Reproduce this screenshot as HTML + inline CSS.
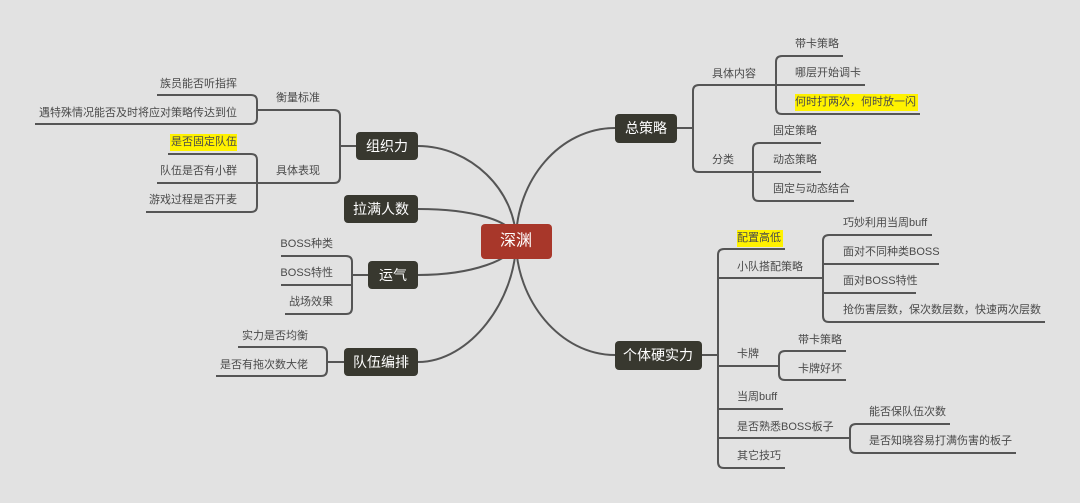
<!DOCTYPE html>
<html><head><meta charset="utf-8"><style>
html,body{margin:0;padding:0;background:#e2e2e2;}
svg{display:block;font-family:"Liberation Sans","Noto Sans CJK SC",sans-serif;}
.t{font-size:11px;fill:#4a4a4a;dominant-baseline:central;}
.b{font-size:14px;fill:#fff;dominant-baseline:central;text-anchor:middle;}
.l{stroke:#555;stroke-width:2;fill:none;}
</style></head><body>
<svg width="1080" height="503" viewBox="0 0 1080 503">
<rect width="1080" height="503" fill="#e2e2e2"/>
<g class="l">
<path d="M516,241 C516,180 560,128 615,128"/>
<path d="M516,241 C516,300 560,355 615,355"/>
<path d="M516,241 C516,190 470,146 418,146"/>
<path d="M516,241 C516,220 470,209 418,209"/>
<path d="M516,241 C516,260 470,275 418,275"/>
<path d="M516,241 C516,300 470,362 418,362"/>
</g>
<g class="l">
<path d="M356,146 H340"/>
<path d="M257,110 H334 Q340,110 340,116 V177 Q340,183 334,183 H157"/>
<path d="M157,95 H251 Q257,95 257,101 V118 Q257,124 251,124 H35"/>
<path d="M168,154 H251 Q257,154 257,160 V206 Q257,212 251,212 H146"/>
<path d="M368,275 H352"/>
<path d="M281,256 H346 Q352,256 352,262 V308 Q352,314 346,314 H285"/>
<path d="M281,285 H352"/>
<path d="M344,362 H327"/>
<path d="M238,347 H321 Q327,347 327,353 V370 Q327,376 321,376 H216"/>
</g>
<rect x="170" y="134" width="67" height="17" fill="#fff200"/>
<text class="t" x="237" y="84" text-anchor="end">族员能否听指挥</text>
<text class="t" x="237" y="113" text-anchor="end">遇特殊情况能否及时将应对策略传达到位</text>
<text class="t" x="320" y="98" text-anchor="end">衡量标准</text>
<text class="t" x="237" y="142" text-anchor="end">是否固定队伍</text>
<text class="t" x="237" y="171" text-anchor="end">队伍是否有小群</text>
<text class="t" x="237" y="200" text-anchor="end">游戏过程是否开麦</text>
<text class="t" x="320" y="171" text-anchor="end">具体表现</text>
<text class="t" x="333" y="244" text-anchor="end">BOSS种类</text>
<text class="t" x="333" y="273" text-anchor="end">BOSS特性</text>
<text class="t" x="333" y="302" text-anchor="end">战场效果</text>
<text class="t" x="308" y="336" text-anchor="end">实力是否均衡</text>
<text class="t" x="308" y="365" text-anchor="end">是否有拖次数大佬</text>
<rect x="356" y="132" width="62" height="28" rx="4" fill="#38382f"/>
<text class="b" x="387" y="146">组织力</text>
<rect x="344" y="195" width="74" height="28" rx="4" fill="#38382f"/>
<text class="b" x="381" y="209">拉满人数</text>
<rect x="368" y="261" width="50" height="28" rx="4" fill="#38382f"/>
<text class="b" x="393" y="275">运气</text>
<rect x="344" y="348" width="74" height="28" rx="4" fill="#38382f"/>
<text class="b" x="381" y="362">队伍编排</text>
<g class="l">
<path d="M677,128 H693"/>
<path d="M865,85 H699 Q693,85 693,91 V166 Q693,172 699,172 H821"/>
<path d="M843,56 H782 Q776,56 776,62 V108 Q776,114 782,114 H920"/>
<path d="M821,143 H759 Q753,143 753,149 V195 Q753,201 759,201 H854"/>
<path d="M702,355 H718"/>
<path d="M785,249 H724 Q718,249 718,255 V462 Q718,468 724,468 H785"/>
<path d="M718,278 H823"/>
<path d="M932,235 H829 Q823,235 823,241 V316 Q823,322 829,322 H1045"/>
<path d="M823,264 H939"/>
<path d="M823,293 H916"/>
<path d="M718,366 H779"/>
<path d="M846,351 H785 Q779,351 779,357 V374 Q779,380 785,380 H846"/>
<path d="M718,409 H783"/>
<path d="M718,438 H850"/>
<path d="M950,424 H856 Q850,424 850,430 V447 Q850,453 856,453 H1016"/>
</g>
<rect x="795" y="94" width="123" height="17" fill="#fff200"/>
<rect x="737" y="230" width="46" height="17" fill="#fff200"/>
<text class="t" x="712" y="74">具体内容</text>
<text class="t" x="795" y="44">带卡策略</text>
<text class="t" x="795" y="73">哪层开始调卡</text>
<text class="t" x="795" y="102">何时打两次，何时放一闪</text>
<text class="t" x="712" y="160">分类</text>
<text class="t" x="773" y="131">固定策略</text>
<text class="t" x="773" y="160">动态策略</text>
<text class="t" x="773" y="189">固定与动态结合</text>
<text class="t" x="737" y="238">配置高低</text>
<text class="t" x="737" y="267">小队搭配策略</text>
<text class="t" x="843" y="223">巧妙利用当周buff</text>
<text class="t" x="843" y="252">面对不同种类BOSS</text>
<text class="t" x="843" y="281">面对BOSS特性</text>
<text class="t" x="843" y="310">抢伤害层数，保次数层数，快速两次层数</text>
<text class="t" x="737" y="354">卡牌</text>
<text class="t" x="798" y="340">带卡策略</text>
<text class="t" x="798" y="369">卡牌好坏</text>
<text class="t" x="737" y="397">当周buff</text>
<text class="t" x="737" y="427">是否熟悉BOSS板子</text>
<text class="t" x="869" y="412">能否保队伍次数</text>
<text class="t" x="869" y="441">是否知晓容易打满伤害的板子</text>
<text class="t" x="737" y="456">其它技巧</text>
<rect x="615" y="114" width="62" height="29" rx="4" fill="#38382f"/>
<text class="b" x="646" y="128">总策略</text>
<rect x="615" y="341" width="87" height="29" rx="4" fill="#38382f"/>
<text class="b" x="658" y="355">个体硬实力</text>
<rect x="481" y="224" width="71" height="35" rx="4" fill="#a8372a"/>
<text class="b" x="516" y="241" style="font-size:16px">深渊</text>
</svg>
</body></html>
